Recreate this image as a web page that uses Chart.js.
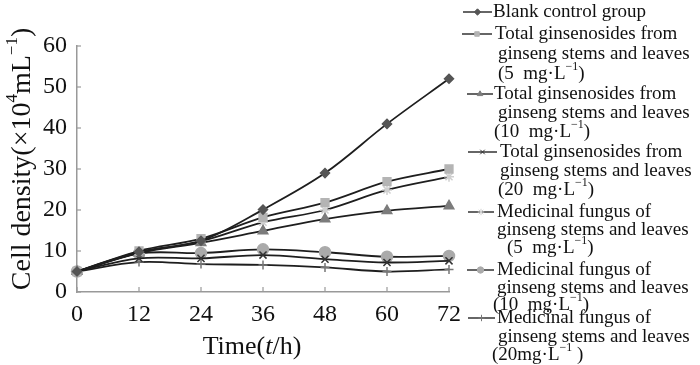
<!DOCTYPE html>
<html>
<head>
<meta charset="utf-8">
<script src="https://cdn.jsdelivr.net/npm/chart.js@4/dist/chart.umd.min.js"></script>
<style>
  html, body { margin: 0; padding: 0; background: #fff; }
  #wrap { width: 700px; height: 365px; }
</style>
</head>
<body>
<div id="wrap"><canvas id="cellChart" width="700" height="365"></canvas></div>
<script>
// hours of culture
const hours = ['0', '12', '24', '36', '48', '60', '72'];

// cell density (x10^4 / mL)
const blankControl = [5, 9.8, 12.5, 20.1, 29, 41, 52];
const totalGs5 = [5, 10, 13, 18.2, 21.8, 26.9, 30];
const totalGs10 = [5, 9.5, 12, 14.9, 17.8, 19.8, 21];
const totalGs20 = [5, 8.2, 8.2, 9, 8, 7.2, 7.6];
const fungus5 = [5, 9.6, 12.4, 17, 20, 24.9, 28.1];
const fungus10 = [5, 9.4, 9.5, 10.4, 9.7, 8.6, 8.8];
const fungus20 = [5, 7.3, 6.8, 6.6, 6, 5, 5.5];

const yMax = 60;
const yStep = 10;

// legend text, one array of lines per series
const legendLines = [
    ['Blank control group'],
    ['Total ginsenosides from', 'ginseng stems and leaves', '(5  mg\u00b7L^{\u22121})'],
    ['Total ginsenosides from', 'ginseng stems and leaves', '(10  mg\u00b7L^{\u22121})'],
    ['Total ginsenosides from', 'ginseng stems and leaves', '(20  mg\u00b7L^{\u22121})'],
    ['Medicinal fungus of', 'ginseng stems and leaves', '(5  mg\u00b7L^{\u22121})'],
    ['Medicinal fungus of', 'ginseng stems and leaves', '(10  mg\u00b7L^{\u22121})'],
    ['Medicinal fungus of', 'ginseng stems and leaves', '(20mg\u00b7L^{\u22121} )']
];
const yTitle = 'Cell density(\u00d710^{4}mL^{\u22121})';
const xTitle = 'Time(*t*/h)';

const FONT = '"Liberation Serif", "Times New Roman", serif';

function series(data, style, fill, stroke, radius) {
    return {
        data: data,
        borderColor: '#1e1e1e',
        borderWidth: 1.8,
        tension: 0.35,
        pointStyle: style,
        pointRadius: radius,
        pointBackgroundColor: fill,
        pointBorderColor: stroke,
        pointBorderWidth: 1.5,
        fill: false
    };
}

// text with ^{superscript} and *italic* pieces
function drawRich(ctx, str, x, y, size, align) {
    const parts = str.split(/(\^\{[^}]*\}|\*[^*]*\*)/).filter(p => p);
    const segs = parts.map(p => {
        if (p.startsWith('^{')) return { t: p.slice(2, -1), font: Math.round(size * 0.62) + 'px ' + FONT, dy: -size * 0.36 };
        if (p.startsWith('*')) return { t: p.slice(1, -1), font: 'italic ' + size + 'px ' + FONT, dy: 0 };
        return { t: p, font: size + 'px ' + FONT, dy: 0 };
    });
    let w = 0;
    segs.forEach(s => { ctx.font = s.font; s.w = ctx.measureText(s.t).width; w += s.w; });
    let cx = align === 'center' ? x - w / 2 : x;
    ctx.textBaseline = 'middle';
    ctx.textAlign = 'left';
    segs.forEach(s => { ctx.font = s.font; ctx.fillText(s.t, cx, y + s.dy); cx += s.w; });
}

const decor = {
    id: 'decor',
    afterDraw(chart) {
        const ctx = chart.ctx;
        const xs = chart.scales.x, ys = chart.scales.y;
        const area = chart.chartArea;
        ctx.save();
        // inward tick marks
        ctx.strokeStyle = '#999';
        ctx.lineWidth = 1.2;
        hours.forEach((h, i) => {
            const px = xs.getPixelForValue(i);
            ctx.beginPath(); ctx.moveTo(px, area.bottom); ctx.lineTo(px, area.bottom - 5); ctx.stroke();
        });
        for (let v = 0; v <= yMax; v += yStep) {
            const py = ys.getPixelForValue(v);
            ctx.beginPath(); ctx.moveTo(area.left, py); ctx.lineTo(area.left + 4, py); ctx.stroke();
        }
        // axis titles
        ctx.fillStyle = '#111';
        drawRich(ctx, xTitle, 252, 347, 26, 'center');
        ctx.save();
        ctx.translate(23, 159);
        ctx.rotate(-Math.PI / 2);
        drawRich(ctx, yTitle, 0, 0, 28, 'center');
        ctx.restore();

        // legend
        const rows = [
            { sx: [463, 492], y: [12], tx: [493] },
            { sx: [462, 492], y: [34, 54, 74], tx: [495, 498, 498] },
            { sx: [467, 493], y: [94, 113, 132], tx: [494, 498, 494] },
            { sx: [468, 497], y: [152, 171, 190], tx: [500, 500, 498] },
            { sx: [468, 494], y: [212, 230, 248], tx: [497, 497, 507] },
            { sx: [467, 494], y: [270, 288, 305], tx: [497, 497, 493] },
            { sx: [468, 495], y: [318, 337, 355], tx: [497, 498, 492] }
        ];
        chart.data.datasets.forEach((ds, k) => {
            const r = rows[k];
            const ly = r.y[0];
            ctx.strokeStyle = '#333';
            ctx.lineWidth = 1.5;
            ctx.beginPath(); ctx.moveTo(r.sx[0], ly); ctx.lineTo(r.sx[1], ly); ctx.stroke();
            ctx.fillStyle = ds.pointBackgroundColor;
            ctx.strokeStyle = ds.pointBorderColor;
            ctx.lineWidth = 1;
            Chart.helpers.drawPoint(ctx, { pointStyle: ds.pointStyle, radius: 3.2, rotation: 0, borderWidth: 1 },
                (r.sx[0] + r.sx[1]) / 2, ly);
            ctx.fillStyle = '#111';
            legendLines[k].forEach((line, j) => drawRich(ctx, line, r.tx[j], r.y[j], 19, 'left'));
        });
        ctx.restore();
    }
};

new Chart(document.getElementById('cellChart').getContext('2d'), {
    type: 'line',
    data: {
        labels: hours,
        datasets: [
            series(blankControl, 'rectRot', '#555', '#555', 4.5),
            series(totalGs5, 'rect', '#b4b4b4', '#b4b4b4', 5.5),
            series(totalGs10, 'triangle', '#7c7c7c', '#7c7c7c', 5.5),
            series(totalGs20, 'crossRot', '#333', '#333', 5),
            series(fungus5, 'star', '#cfcfcf', '#cfcfcf', 5),
            series(fungus10, 'circle', '#aaa', '#aaa', 5.5),
            series(fungus20, 'cross', '#777', '#777', 4.5)
        ]
    },
    options: {
        responsive: false,
        animation: false,
        layout: { padding: { top: 46, right: 251, left: 0, bottom: 0 } },
        plugins: { legend: { display: false }, tooltip: { enabled: false } },
        scales: {
            x: {
                grid: { display: false },
                border: { display: true, color: '#999', width: 1.5 },
                ticks: { font: { family: FONT, size: 24 }, color: '#111', padding: 0, maxRotation: 0 },
                afterFit(scale) { scale.height = 73; }
            },
            y: {
                min: 0,
                max: yMax,
                grid: { display: false },
                border: { display: true, color: '#999', width: 1.5 },
                ticks: { stepSize: yStep, font: { family: FONT, size: 24 }, color: '#111', padding: 2 },
                afterFit(scale) { scale.width = 77; }
            }
        }
    },
    plugins: [decor]
});
</script>
</body>
</html>
